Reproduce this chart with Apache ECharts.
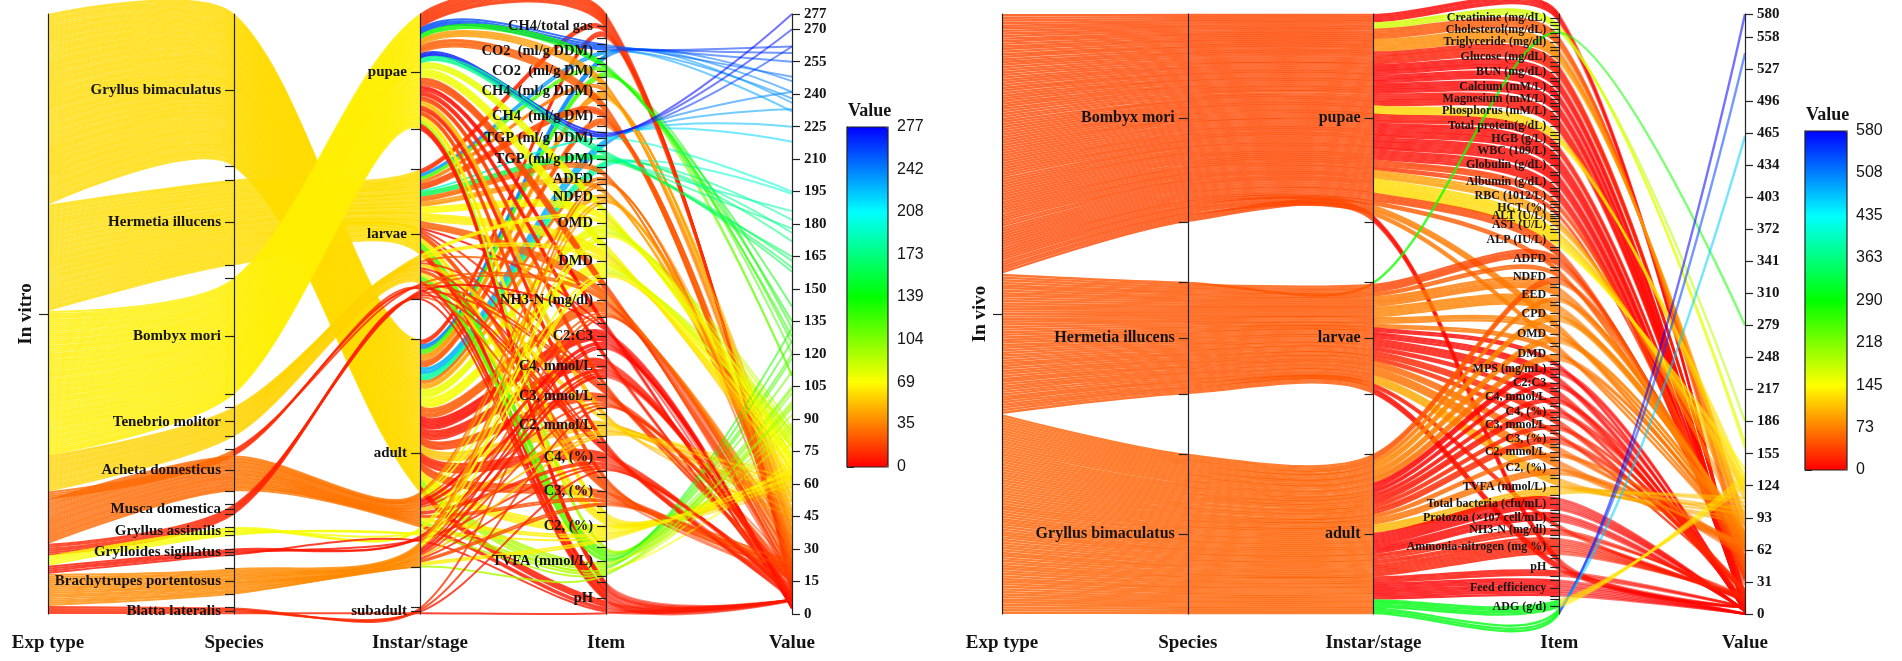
<!DOCTYPE html>
<html>
<head>
<meta charset="utf-8">
<script src="https://cdn.jsdelivr.net/npm/echarts@6/dist/echarts.min.js"></script>
<style>
html, body { margin: 0; background: #fff; }
#chart { width: 1902px; height: 661px; }
</style>
</head>
<body>
<div id="chart"></div>
<script>
var axisNames = ['Exp type', 'Species', 'Instar/stage', 'Item', 'Value'];
var rainbow = ['#ff0000', '#ffff00', '#00ff00', '#00ffff', '#0000ff'];

// ---------- In vitro (left) ----------
var vitroSpecies = ['Gryllus bimaculatus', 'Hermetia illucens', 'Bombyx mori', 'Tenebrio molitor',
    'Acheta domesticus', 'Musca domestica', 'Gryllus assimilis', 'Grylloides sigillatus',
    'Brachytrupes portentosus', 'Blatta lateralis'];
var vitroStages = ['pupae', 'larvae', 'adult', 'subadult'];
var vitroItems = ['CH4/total gas', 'CO2  (ml/g DDM)', 'CO2  (ml/g DM)', 'CH4  (ml/g DDM)', 'CH4  (ml/g DM)',
    'TGP (ml/g DDM)', 'TGP (ml/g DM)', 'ADFD', 'NDFD', 'OMD', 'DMD', 'NH3-N (mg/dl)', 'C2:C3',
    'C4, mmol/L', 'C3, mmol/L', 'C2, mmol/L', 'C4, (%)', 'C3, (%)', 'C2, (%)', 'TVFA (mmol/L)', 'pH'];
var vitroValueTicks = [0, 15, 30, 45, 60, 75, 90, 105, 120, 135, 150, 165, 180, 195, 210, 225, 240, 255, 270, 277];
var vitroBarTicks = [0, 35, 69, 104, 139, 173, 208, 242, 277];

var vitroGryllusBim = [
    ['CH4/total gas', 8.8, 10.6, 12.3],
    ['CO2  (ml/g DDM)', 236, 241, 246],
    ['CO2  (ml/g DM)', 132, 120, 110],
    ['CH4  (ml/g DDM)', 36, 42, 47, 39],
    ['CH4  (ml/g DM)', 24, 20, 27, 22],
    ['TGP (ml/g DDM)', 218, 225, 233, 241],
    ['TGP (ml/g DM)', 176, 182, 172, 194],
    ['ADFD', 31, 38],
    ['NDFD', 44, 52, 49],
    ['OMD', 78, 83, 72, 86, 69],
    ['DMD', 74, 80, 70, 84, 66, 77],
    ['NH3-N (mg/dl)', 21, 27, 33, 18, 25, 30],
    ['C2:C3', 3.2, 2.8, 3.6, 4.1, 2.5, 3.0, 3.4],
    ['C4, mmol/L', 6.2, 7.8, 5.5, 9.1, 8.3, 6.9],
    ['C3, mmol/L', 15.2, 18.6, 21.3, 13.8, 17.1],
    ['C2, mmol/L', 48, 56, 62, 43, 58],
    ['C4, (%)', 8.5, 10.2, 7.6, 11.8, 9.3, 12.5],
    ['C3, (%)', 18.4, 21.2, 16.8, 23.5, 19.7],
    ['C2, (%)', 64.2, 68.5, 61.7, 70.3, 66.1],
    ['TVFA (mmol/L)', 86, 95, 102, 118, 79],
    ['pH', 6.5, 6.7, 6.6, 6.4]
];
var vitroHermetia = [
    ['CH4/total gas', 9.5, 11.2, 13.4],
    ['CO2  (ml/g DDM)', 232, 238],
    ['CO2  (ml/g DM)', 125, 110],
    ['CH4  (ml/g DDM)', 29, 35],
    ['CH4  (ml/g DM)', 16, 21, 18, 19],
    ['TGP (ml/g DDM)', 195],
    ['TGP (ml/g DM)', 158, 163, 160],
    ['ADFD', 22, 28, 35],
    ['NDFD', 34, 41, 47],
    ['OMD', 66, 71, 62, 58],
    ['DMD', 58, 63, 55, 67, 61],
    ['NH3-N (mg/dl)', 24, 31, 28, 35],
    ['C2:C3', 2.6],
    ['C3, mmol/L', 14.2],
    ['C4, (%)', 8.8],
    ['C3, (%)', 22, 19, 25],
    ['C2, (%)', 62, 65, 59],
    ['TVFA (mmol/L)', 98, 112, 105, 120],
    ['pH', 6.4, 6.6, 6.5, 6.7]
];
var vitroBombyx = [
    ['CH4/total gas', 12.5, 14.2, 11.8, 15.6, 13.1, 16.4, 10.9, 14.8, 12.0],
    ['CO2  (ml/g DDM)', 248, 255, 259, 262],
    ['CO2  (ml/g DM)', 128, 142, 135],
    ['CH4  (ml/g DDM)', 38, 45, 33, 52],
    ['CH4  (ml/g DM)', 22, 28, 19, 31, 25],
    ['TGP (ml/g DDM)', 262, 270, 277],
    ['TGP (ml/g DM)', 165, 178, 186],
    ['OMD', 74, 70, 82, 77],
    ['DMD', 72, 68, 85, 78, 63],
    ['NH3-N (mg/dl)', 18, 22, 15, 26, 20],
    ['C2:C3', 3.1, 2.7, 3.5],
    ['C4, mmol/L', 6.5, 7.1, 8.0],
    ['C3, mmol/L', 14.6, 16.9, 18.2],
    ['C2, mmol/L', 45, 52, 57],
    ['C4, (%)', 8.2, 9.6, 10.9],
    ['C3, (%)', 17.2, 19.8, 22.6],
    ['C2, (%)', 60.5, 63.7, 67.2],
    ['TVFA (mmol/L)', 88, 96],
    ['pH', 6.6, 6.8, 6.5, 6.7]
];
var vitroTenebrio = [
    ['OMD', 76, 81],
    ['DMD', 72, 79],
    ['NH3-N (mg/dl)', 29],
    ['C3, mmol/L', 17],
    ['C2, mmol/L', 55, 63],
    ['C4, (%)', 9.6],
    ['C3, (%)', 20, 24],
    ['C2, (%)', 63, 67],
    ['TVFA (mmol/L)', 104, 126, 132],
    ['pH', 6.5, 6.6]
];
var vitroAchetaLarvae = [
    ['NH3-N (mg/dl)', 16],
    ['C3, mmol/L', 12.5],
    ['C4, (%)', 7.4],
    ['pH', 6.2]
];
var vitroAchetaAdult = [
    ['ADFD', 26],
    ['NDFD', 39],
    ['OMD', 65],
    ['DMD', 60],
    ['NH3-N (mg/dl)', 19],
    ['C2:C3', 2.9, 3.5],
    ['C4, mmol/L', 5.8, 6.6],
    ['C3, mmol/L', 14.5],
    ['C2, mmol/L', 46, 52],
    ['C4, (%)', 9.1, 10.8],
    ['C3, (%)', 17.5, 20.6],
    ['C2, (%)', 60.4, 63.8],
    ['TVFA (mmol/L)', 71, 84],
    ['pH', 6.3, 6.5]
];
var vitroMusca = [
    ['NH3-N (mg/dl)', 14],
    ['C2:C3', 2.6],
    ['C3, mmol/L', 11.4],
    ['C4, (%)', 6.8],
    ['C3, (%)', 16.2],
    ['pH', 6.1]
];
var vitroGryllusAss = [
    ['OMD', 73],
    ['DMD', 69],
    ['C2, mmol/L', 58],
    ['C2, (%)', 66.4],
    ['TVFA (mmol/L)', 92]
];
var vitroGrylloides = [
    ['C2:C3', 2.7],
    ['C4, mmol/L', 5.1],
    ['C4, (%)', 7.9],
    ['pH', 6.4]
];
var vitroBrachytrupes = [
    ['ADFD', 29],
    ['NDFD', 43],
    ['OMD', 70],
    ['DMD', 65],
    ['NH3-N (mg/dl)', 23],
    ['C2:C3', 3.1],
    ['C4, mmol/L', 6.4, 7.2],
    ['C3, mmol/L', 16.3],
    ['C2, mmol/L', 54],
    ['C4, (%)', 9.7],
    ['C3, (%)', 19.2, 22.4],
    ['C2, (%)', 62.8, 65.5],
    ['TVFA (mmol/L)', 97]
];
var vitroBlatta = [
    ['NH3-N (mg/dl)', 15],
    ['C3, mmol/L', 12.8],
    ['C4, (%)', 8.2],
    ['pH', 6.3]
];
var vitroGroups = [
    ['Gryllus bimaculatus', 'adult', vitroGryllusBim],
    ['Hermetia illucens', 'larvae', vitroHermetia],
    ['Bombyx mori', 'pupae', vitroBombyx],
    ['Tenebrio molitor', 'larvae', vitroTenebrio],
    ['Acheta domesticus', 'larvae', vitroAchetaLarvae],
    ['Acheta domesticus', 'adult', vitroAchetaAdult],
    ['Musca domestica', 'larvae', vitroMusca],
    ['Gryllus assimilis', 'adult', vitroGryllusAss],
    ['Grylloides sigillatus', 'adult', vitroGrylloides],
    ['Brachytrupes portentosus', 'adult', vitroBrachytrupes],
    ['Blatta lateralis', 'subadult', vitroBlatta]
];

// ---------- In vivo (right) ----------
var vivoSpecies = ['Bombyx mori', 'Hermetia illucens', 'Gryllus bimaculatus'];
var vivoStages = ['pupae', 'larvae', 'adult'];
var vivoItems = ['Creatinine (mg/dL)', 'Cholesterol(mg/dL)', 'Triglyceride (mg/dl)', 'Glucose (mg/dL)',
    'BUN (mg/dL)', 'Calcium (mM/L)', 'Magnesium (mM/L)', 'Phosphorus (mM/L)', 'Total protein(g/dL)',
    'HGB (g/L)', 'WBC (109/L)', 'Globulin (g/dL)', 'Albumin (g/dL)', 'RBC (1012/L)', 'HCT (%)',
    'ALT (U/L)', 'AST (U/L)', 'ALP (IU/L)', 'ADFD', 'NDFD', 'EED', 'CPD', 'OMD', 'DMD', 'MPS (mg/mL)',
    'C2:C3', 'C4, mmol/L', 'C4, (%)', 'C3, mmol/L', 'C3, (%)', 'C2, mmol/L', 'C2, (%)', 'TVFA (mmol/L)',
    'Total bacteria (cfu/mL)', 'Protozoa (×107 cell/mL)', 'NH3-N (mg/dl)', 'Ammonia-nitrogen (mg %)',
    'pH', 'Feed efficiency', 'ADG (g/d)'];
var vivoValueTicks = [0, 31, 62, 93, 124, 155, 186, 217, 248, 279, 310, 341, 372, 403, 434, 465, 496, 527, 558, 580];
var vivoBarTicks = [0, 73, 145, 218, 290, 363, 435, 508, 580];

var vivoBombyx = [
    ['Creatinine (mg/dL)', 0.8, 1.1, 0.9, 1.2],
    ['Cholesterol(mg/dL)', 165, 186, 160],
    ['Triglyceride (mg/dl)', 45, 52, 38, 60, 49],
    ['Glucose (mg/dL)', 75, 82, 68, 90, 71, 86],
    ['BUN (mg/dL)', 12, 15, 18, 14, 16, 13],
    ['Calcium (mM/L)', 2.4, 2.6, 2.5, 2.7, 2.3],
    ['Magnesium (mM/L)', 1.0, 1.1, 0.9, 1.2],
    ['Phosphorus (mM/L)', 2.1, 1.9, 2.3, 2.0, 2.2],
    ['Total protein(g/dL)', 6.8, 7.1, 6.5, 7.4, 6.9, 7.0],
    ['HGB (g/L)', 118, 125, 112, 130],
    ['WBC (109/L)', 8.2, 9.1, 7.5, 10.3],
    ['Globulin (g/dL)', 3.5, 3.8, 3.2, 4.0, 3.6, 3.3, 3.9],
    ['Albumin (g/dL)', 3.3, 3.1, 3.5, 3.0, 3.4, 3.2],
    ['RBC (1012/L)', 6.5, 7.0, 6.2, 6.8, 7.3],
    ['HCT (%)', 35, 38, 33],
    ['ALT (U/L)', 28, 34],
    ['AST (U/L)', 85, 96, 78, 102],
    ['ALP (IU/L)', 120, 135, 110, 128, 140, 116, 124],
    ['ADFD', 35, 42, 38, 45],
    ['NDFD', 48, 52],
    ['OMD', 68, 72, 70],
    ['DMD', 66, 69],
    ['pH', 6.6, 6.7, 6.5]
];
var vivoHermetia = [
    ['Cholesterol(mg/dL)', 279],
    ['ADFD', 32, 36, 40, 44],
    ['NDFD', 50, 55],
    ['EED', 62, 65, 70, 68, 73],
    ['CPD', 72, 75, 70, 78, 74],
    ['OMD', 70, 74, 71],
    ['DMD', 64, 67],
    ['MPS (mg/mL)', 1.6, 1.8],
    ['C2:C3', 3.1, 2.8, 3.4],
    ['C4, mmol/L', 7.5, 8.2, 6.9, 9.0],
    ['C4, (%)', 9.5, 10.2],
    ['C3, mmol/L', 18, 21, 20],
    ['C3, (%)', 21, 23],
    ['C2, mmol/L', 58, 62, 55],
    ['C2, (%)', 64, 66, 62, 68],
    ['TVFA (mmol/L)', 92, 98, 88, 104],
    ['NH3-N (mg/dl)', 14, 16],
    ['pH', 6.4, 6.5, 6.3]
];
var vivoGryllus = [
    ['NDFD', 45, 49, 52],
    ['EED', 66, 71],
    ['CPD', 76, 79, 73],
    ['OMD', 69, 73, 75],
    ['DMD', 63, 68, 65],
    ['MPS (mg/mL)', 1.5, 1.7, 1.9],
    ['C2:C3', 2.9, 3.3],
    ['C4, mmol/L', 7.8, 8.5],
    ['C4, (%)', 9.8, 10.6, 11.2],
    ['C3, mmol/L', 19, 22],
    ['C3, (%)', 20, 22, 24],
    ['C2, mmol/L', 57, 61],
    ['C2, (%)', 63, 65, 67],
    ['TVFA (mmol/L)', 95, 108, 112, 100],
    ['Total bacteria (cfu/mL)', 2.4, 3.1, 2.8, 3.5, 2.6, 3.0],
    ['Protozoa (×107 cell/mL)', 3.2, 3.8, 4.1, 3.5],
    ['NH3-N (mg/dl)', 13, 15, 17],
    ['Ammonia-nitrogen (mg %)', 12, 14, 15, 13, 16, 18, 17, 14],
    ['pH', 6.6, 6.8, 6.7],
    ['Feed efficiency', 0.18, 0.21, 0.16, 0.24, 0.19, 0.22, 0.2, 0.17],
    ['ADG (g/d)', 580, 542, 462, 135, 128, 124, 131]
];
var vivoGroups = [
    ['Bombyx mori', 'pupae', vivoBombyx],
    ['Hermetia illucens', 'larvae', vivoHermetia],
    ['Gryllus bimaculatus', 'adult', vivoGryllus]
];

var serif = 'Liberation Serif';
var ink = '#141414';
var nameStyle = { fontFamily: serif, fontSize: 19, fontWeight: 'bold', color: ink };
var axisLineStyle = { lineStyle: { color: '#222', width: 1.2 } };

function categoryAxis(p, k, max, centers, names, ticks, sizes) {
    var isExp = k === 0;
    return {
        dim: k,
        parallelIndex: p,
        type: 'value',
        inverse: true,
        min: 0,
        max: max,
        name: axisNames[k],
        nameLocation: 'end',
        nameGap: 20,
        nameTextStyle: nameStyle,
        axisLine: axisLineStyle,
        splitLine: { show: false },
        axisTick: { show: true, length: -9, customValues: ticks, lineStyle: { color: '#222', width: 1.2 } },
        axisLabel: {
            // blank labels at both ends take the automatic min/max hiding
            customValues: [0].concat(centers, [max]),
            showMinLabel: false,
            showMaxLabel: false,
            rotate: isExp ? 90 : 0,
            margin: isExp ? -12 : -13,
            align: isExp ? 'center' : 'right',
            verticalAlign: isExp ? 'bottom' : 'middle',
            fontFamily: serif,
            fontWeight: 'bold',
            color: ink,
            fontSize: isExp ? 19 : (k === 3 ? sizes.item : sizes.cat),
            formatter: function (v) {
                if (v <= 1e-9 || v >= max - 1e-9) return '';
                var best = 0;
                for (var q = 1; q < centers.length; q++) {
                    if (Math.abs(centers[q] - v) < Math.abs(centers[best] - v)) best = q;
                }
                return names[best];
            }
        }
    };
}

function buildPanel(p, expName, species, stages, items, groups, vMax, vTicks, sizes) {
    var recs = [];
    groups.forEach(function (g) {
        var sp = species.indexOf(g[0]), st = stages.indexOf(g[1]);
        g[2].forEach(function (row) {
            var it = items.indexOf(row[0]);
            for (var i = 1; i < row.length; i++) {
                recs.push({ c: [0, sp, st, it], v: row[i] });
            }
        });
    });
    var n = recs.length;
    var cats = [[expName], species, stages, items];
    var pos = recs.map(function () { return []; });
    var order = recs.map(function (r, i) { return i; });
    var axes = [];

    for (var k = 0; k < 4; k++) {
        var names = cats[k], K = names.length;
        // 20% of every categorical axis is left for the gaps between categories
        var gap = K > 1 ? 0.25 * n / (K - 1) : 0;
        order.sort(function (a, b) {
            var ra = recs[a], rb = recs[b];
            if (ra.c[k] !== rb.c[k]) return ra.c[k] - rb.c[k];
            if (k === 0) {
                for (var j = 1; j < 4; j++) {
                    if (ra.c[j] !== rb.c[j]) return ra.c[j] - rb.c[j];
                }
                return ra.v - rb.v;
            }
            return pos[a][k - 1] - pos[b][k - 1];
        });
        var counts = names.map(function () { return 0; });
        order.forEach(function (i) { counts[recs[i].c[k]]++; });
        var starts = [], acc = 0;
        for (var c = 0; c < K; c++) {
            starts.push(acc + c * gap);
            acc += counts[c];
        }
        var seen = names.map(function () { return 0; });
        order.forEach(function (i) {
            var ci = recs[i].c[k];
            pos[i][k] = starts[ci] + seen[ci] + 0.5;
            seen[ci]++;
        });
        var centers = [], ticks = [];
        for (c = 0; c < K; c++) {
            centers.push(starts[c] + counts[c] / 2);
            ticks.push(starts[c], starts[c] + counts[c], starts[c] + counts[c] / 2);
        }
        axes.push(categoryAxis(p, k, n + gap * (K - 1), centers, names, ticks, sizes));
    }

    axes.push({
        dim: 4,
        parallelIndex: p,
        type: 'value',
        min: 0,
        max: vMax,
        name: axisNames[4],
        nameLocation: 'start',
        nameGap: 20,
        nameTextStyle: nameStyle,
        axisLine: axisLineStyle,
        splitLine: { show: false },
        axisTick: { show: true, length: 8, customValues: vTicks, lineStyle: { color: '#222', width: 1.2 } },
        axisLabel: { customValues: vTicks, margin: 12, fontFamily: serif, fontWeight: 'bold', fontSize: 15, color: ink,
            showMinLabel: true, showMaxLabel: true }
    });

    // ribbon colour = mean value of the records that share both ends of a segment
    function means(ka, kb) {
        var s = {};
        recs.forEach(function (r) {
            var key = r.c[ka] + '|' + r.c[kb];
            s[key] = s[key] || [0, 0];
            s[key][0] += r.v;
            s[key][1]++;
        });
        return function (r) {
            var e = s[r.c[ka] + '|' + r.c[kb]];
            return e[0] / e[1];
        };
    }
    var m01 = means(0, 1), m12 = means(1, 2), m23 = means(2, 3);
    function col(v, a) {
        return echarts.color.modifyAlpha(echarts.color.lerp(Math.min(1, v / vMax), rainbow), a);
    }

    var data = recs.map(function (r, i) {
        var c0 = col(m01(r), 0.8), c1 = col(m12(r), 0.8), c2 = col(m23(r), 0.8), c3 = col(r.v, 0.55);
        return {
            value: [pos[i][0], pos[i][1], pos[i][2], pos[i][3], r.v],
            lineStyle: {
                color: new echarts.graphic.LinearGradient(0, 0, 1, 0, [
                    { offset: 0, color: c0 }, { offset: 0.25, color: c0 },
                    { offset: 0.25, color: c1 }, { offset: 0.5, color: c1 },
                    { offset: 0.5, color: c2 }, { offset: 0.75, color: c2 },
                    { offset: 0.75, color: c3 }, { offset: 1, color: c3 }
                ])
            }
        };
    });
    return { axes: axes, data: data };
}

var vitro = buildPanel(0, 'In vitro', vitroSpecies, vitroStages, vitroItems, vitroGroups, 277, vitroValueTicks, { cat: 15, item: 14.5 });
var vivo = buildPanel(1, 'In vivo', vivoSpecies, vivoStages, vivoItems, vivoGroups, 580, vivoValueTicks, { cat: 16, item: 12 });

function colorBarAxis(idx, max, ticks) {
    return {
        gridIndex: idx,
        type: 'value',
        position: 'right',
        min: 0,
        max: max,
        axisLine: { show: true, lineStyle: { color: '#222', width: 1.2 } },
        axisTick: { show: true, length: 7, customValues: ticks, lineStyle: { color: '#222' } },
        axisLabel: { customValues: ticks, fontFamily: 'Liberation Sans', fontSize: 16, color: ink, margin: 9 },
        splitLine: { show: false }
    };
}

var chart = echarts.init(document.getElementById('chart'));
chart.setOption({
    animation: false,
    textStyle: { fontFamily: serif },
    title: [
        { text: 'Value', left: 843, top: 97, textStyle: { fontFamily: serif, fontSize: 18, fontWeight: 'bold', color: ink } },
        { text: 'Value', left: 1801, top: 101, textStyle: { fontFamily: serif, fontSize: 18, fontWeight: 'bold', color: ink } }
    ],
    parallel: [
        { left: 48, top: 14, width: 744, height: 600 },
        { left: 1002, top: 14, width: 743, height: 600 }
    ],
    parallelAxis: vitro.axes.concat(vivo.axes),
    grid: [
        { left: 847, top: 127, width: 41, height: 340, show: true, borderColor: '#222', borderWidth: 1.2, backgroundColor: 'transparent', z: 6 },
        { left: 1805, top: 131, width: 42, height: 339, show: true, borderColor: '#222', borderWidth: 1.2, backgroundColor: 'transparent', z: 6 }
    ],
    xAxis: [
        { gridIndex: 0, type: 'value', show: false },
        { gridIndex: 1, type: 'value', show: false }
    ],
    yAxis: [colorBarAxis(0, 277, vitroBarTicks), colorBarAxis(1, 580, vivoBarTicks)],
    visualMap: [
        { type: 'continuous', min: 0, max: 277, seriesIndex: [], calculable: false, left: 847, top: 127,
          itemWidth: 41, itemHeight: 340, padding: 0, inRange: { color: rainbow } },
        { type: 'continuous', min: 0, max: 580, seriesIndex: [], calculable: false, left: 1805, top: 131,
          itemWidth: 42, itemHeight: 339, padding: 0, inRange: { color: rainbow } }
    ],
    series: [
        { type: 'parallel', parallelIndex: 0, smooth: true, silent: true, z: 1,
          lineStyle: { width: 2, opacity: 1 }, data: vitro.data },
        { type: 'parallel', parallelIndex: 1, smooth: true, silent: true, z: 1,
          lineStyle: { width: 2.4, opacity: 1 }, data: vivo.data }
    ]
});
</script>
</body>
</html>
